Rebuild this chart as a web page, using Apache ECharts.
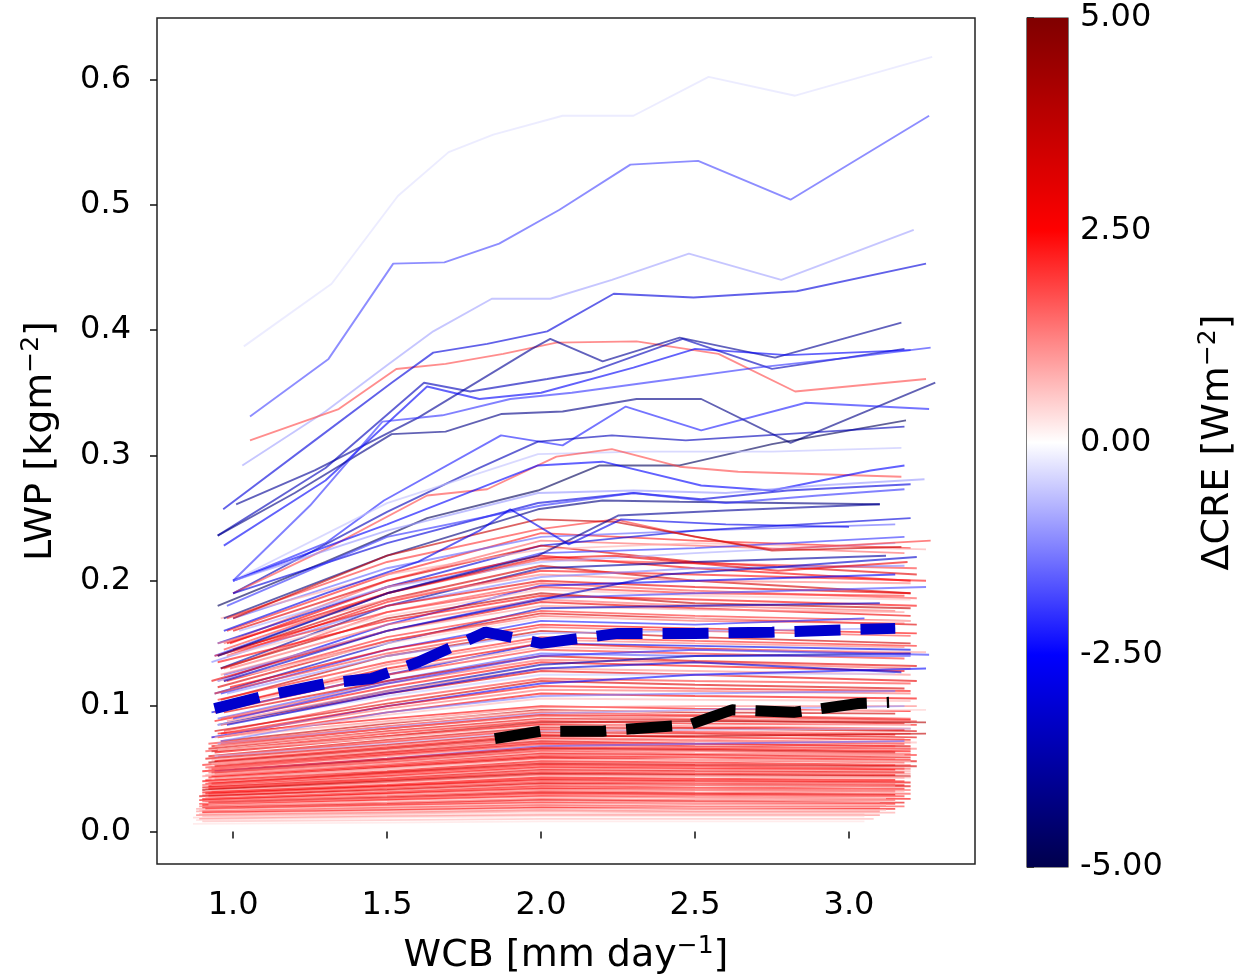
<!DOCTYPE html>
<html><head><meta charset="utf-8">
<script src="https://cdn.jsdelivr.net/npm/echarts@6/dist/echarts.min.js"></script>
<style>html,body{margin:0;padding:0;background:#fff}#c{width:1239px;height:980px}</style>
</head><body><div id="c"></div>
<script>
// ---- tick labels ----
const xTicks = [1.0, 1.5, 2.0, 2.5, 3.0];
const yTicks = [0, 0.1, 0.2, 0.3, 0.4, 0.5, 0.6];
const cbarTicks = [-5, -2.5, 0, 2.5, 5];

// ---- prominent upper lines (ΔCRE, x, y) ----
const upperCRE = [-0.3, -1.8, -0.9, 1.8, -3.0, -4.0, -3.5, -2.6, -4.2, -2.2, -4.8, -3.5, -0.6, 1.8, -2.5, -4.3, -3.0, -1.0, -2.0, 2.0, 3.6, 2.8, -4.0, -2.8, -3.2, -2.0];
const upperX = [
 [1.035,1.32,1.535,1.70,1.845,2.07,2.30,2.544,2.825,3.27],
 [1.055,1.31,1.52,1.686,1.864,2.06,2.29,2.51,2.81,3.26],
 [1.03,1.3,1.5,1.65,1.84,2.03,2.23,2.48,2.78,3.21],
 [1.055,1.343,1.53,1.69,1.877,2.05,2.31,2.576,2.825,3.25],
 [0.968,1.26,1.515,1.65,1.825,2.02,2.236,2.495,2.83,3.25],
 [1.01,1.265,1.6,1.97,2.03,2.2,2.45,2.76,3.17],
 [0.95,1.3,1.62,1.77,2.02,2.165,2.46,2.75,3.18],
 [0.97,1.3,1.63,1.8,2.0,2.3,2.5,2.8,3.2],
 [0.95,1.2,1.515,1.69,1.87,2.07,2.31,2.52,2.81,3.28],
 [1.0,1.3,1.49,1.87,2.07,2.275,2.52,2.86,3.26],
 [0.95,1.3,1.63,1.99,2.19,2.45,2.75,3.185],
 [1.0,1.5,1.8,1.99,2.23,2.47,3.18],
 [1.0,1.5,1.99,2.32,2.75,3.17],
 [1.0,1.3,1.63,1.825,2.05,2.23,2.45,2.64,3.17],
 [1.0,1.5,1.99,2.2,2.52,2.75,3.07,3.18],
 [0.97,1.5,1.99,2.2,2.45,3.1],
 [1.0,1.5,1.99,2.3,2.52,2.8,3.2],
 [1.0,1.5,1.99,2.3,2.6,2.9,3.245],
 [0.98,1.5,2.0,2.3,2.6,2.9,3.18],
 [0.98,1.5,1.99,2.24,2.5,2.75,3.265],
 [1.0,1.5,1.99,2.24,2.75,3.17],
 [0.98,1.5,1.99,2.24,2.77,3.19],
 [0.95,1.5,1.99,2.25,2.6,3.1],
 [0.97,1.3,1.6,1.8,1.9,2.09,2.26,2.6,3.0],
 [0.97,1.5,2.0,2.4,2.77,3.22],
 [1.0,1.25,1.485,1.68,1.9,2.1,2.4,2.7,3.0,3.265]
];
const upperY = [
 [0.387,0.437,0.507,0.542,0.556,0.571,0.571,0.602,0.587,0.618],
 [0.331,0.377,0.453,0.454,0.469,0.496,0.532,0.535,0.504,0.571],
 [0.292,0.335,0.372,0.399,0.425,0.425,0.440,0.461,0.440,0.480],
 [0.312,0.337,0.369,0.373,0.381,0.390,0.391,0.381,0.351,0.361],
 [0.257,0.311,0.358,0.382,0.389,0.399,0.429,0.426,0.431,0.453],
 [0.261,0.288,0.33,0.385,0.393,0.375,0.394,0.378,0.406],
 [0.236,0.29,0.358,0.351,0.361,0.367,0.393,0.369,0.385],
 [0.228,0.28,0.355,0.345,0.35,0.37,0.385,0.38,0.384],
 [0.236,0.27,0.317,0.319,0.333,0.335,0.345,0.345,0.310,0.358],
 [0.2,0.23,0.264,0.316,0.308,0.339,0.320,0.342,0.337],
 [0.18,0.215,0.25,0.272,0.292,0.292,0.309,0.328],
 [0.19,0.255,0.29,0.311,0.316,0.312,0.323],
 [0.2,0.262,0.301,0.303,0.303,0.306],
 [0.19,0.225,0.268,0.273,0.299,0.305,0.291,0.287,0.283],
 [0.2,0.245,0.292,0.295,0.276,0.272,0.288,0.292],
 [0.17,0.22,0.257,0.264,0.263,0.261],
 [0.19,0.23,0.262,0.27,0.265,0.272,0.277],
 [0.2,0.24,0.27,0.272,0.27,0.276,0.281],
 [0.18,0.235,0.26,0.27,0.262,0.268,0.273],
 [0.17,0.215,0.241,0.249,0.235,0.225,0.232],
 [0.17,0.22,0.249,0.247,0.224,0.227],
 [0.15,0.19,0.218,0.22,0.208,0.215],
 [0.14,0.19,0.22,0.252,0.256,0.261],
 [0.16,0.19,0.215,0.24,0.257,0.229,0.249,0.245,0.243],
 [0.12,0.16,0.185,0.205,0.211,0.219],
 [0.2,0.26,0.327,0.332,0.345,0.35,0.36,0.37,0.378,0.386]
];

// ---- dense bundle lines: [ΔCRE, xStart, yStart, y@1.5, y@2.0, y@2.5, xEnd, yEnd] ----
const denseInnerX = [1.5, 2.0, 2.5];
const midRows = [
 [2.2,0.98,0.16,0.205,0.238,0.232,3.2,0.226],[-1.5,1.0,0.17,0.21,0.235,0.24,3.15,0.245],
 [1.5,0.97,0.15,0.2,0.232,0.228,3.18,0.222],[-3.0,0.95,0.15,0.195,0.228,0.24,3.2,0.25],
 [3.0,1.0,0.16,0.2,0.228,0.215,3.22,0.205],[0.8,0.96,0.17,0.205,0.225,0.23,3.25,0.225],
 [-2.0,0.94,0.14,0.19,0.222,0.226,3.18,0.235],[2.6,0.99,0.15,0.195,0.22,0.21,3.2,0.2],
 [1.9,0.97,0.145,0.19,0.217,0.214,3.22,0.21],[-0.8,1.02,0.16,0.195,0.215,0.222,3.15,0.23],
 [3.3,0.95,0.14,0.185,0.212,0.2,3.2,0.19],[-3.8,0.96,0.13,0.18,0.21,0.215,3.12,0.22],
 [2.3,0.98,0.14,0.183,0.208,0.205,3.25,0.2],[1.2,0.95,0.15,0.185,0.205,0.2,3.2,0.198],
 [-1.2,0.93,0.135,0.18,0.203,0.21,3.18,0.212],[2.9,1.0,0.145,0.18,0.2,0.195,3.2,0.19],
 [1.7,0.97,0.13,0.175,0.198,0.192,3.22,0.186],[-2.6,0.95,0.12,0.165,0.196,0.2,3.15,0.205],
 [2.0,0.94,0.14,0.175,0.195,0.19,3.18,0.188],[0.6,0.98,0.14,0.172,0.193,0.188,3.2,0.185],
 [3.6,0.96,0.13,0.17,0.19,0.182,3.2,0.178],[2.4,0.95,0.135,0.168,0.188,0.185,3.22,0.18],
 [-1.8,0.97,0.125,0.16,0.186,0.19,3.25,0.195],[1.4,0.99,0.13,0.165,0.185,0.18,3.15,0.176],
 [2.8,0.93,0.12,0.16,0.183,0.178,3.2,0.172],[1.0,0.96,0.125,0.16,0.18,0.177,3.18,0.175],
 [-3.3,0.94,0.11,0.15,0.178,0.18,3.1,0.182],[2.1,0.98,0.12,0.155,0.176,0.172,3.2,0.168],
 [3.1,0.95,0.115,0.152,0.174,0.17,3.22,0.165],[1.6,0.97,0.12,0.152,0.172,0.168,3.18,0.166],
 [0.4,0.95,0.12,0.15,0.17,0.17,3.2,0.168],[-2.2,0.96,0.11,0.145,0.168,0.165,3.05,0.17],
 [2.5,0.99,0.115,0.145,0.165,0.162,3.22,0.158],[1.8,0.94,0.11,0.142,0.163,0.16,3.2,0.156],
 [3.4,0.96,0.105,0.14,0.16,0.155,3.2,0.15],[-1.0,0.98,0.11,0.14,0.158,0.16,3.15,0.162],
 [2.2,0.95,0.105,0.135,0.155,0.152,3.22,0.148],[1.3,0.97,0.1,0.133,0.153,0.15,3.18,0.147],
 [-2.8,0.93,0.095,0.125,0.15,0.148,3.2,0.145],[2.7,0.96,0.1,0.13,0.15,0.146,3.2,0.142],
 [0.9,0.98,0.1,0.128,0.147,0.145,3.25,0.143],[2.0,0.94,0.095,0.125,0.145,0.142,3.18,0.138],
 [-1.6,0.95,0.09,0.12,0.142,0.14,3.2,0.14],[3.0,0.97,0.095,0.12,0.14,0.136,3.22,0.132],
 [1.5,0.96,0.09,0.118,0.137,0.135,3.2,0.13],[2.4,0.94,0.088,0.115,0.135,0.132,3.18,0.128],
 [-3.5,0.95,0.085,0.112,0.133,0.14,3.2,0.142],[1.1,0.98,0.088,0.112,0.13,0.128,3.2,0.125],
 [2.9,0.96,0.085,0.11,0.128,0.125,3.22,0.12],[-0.5,0.95,0.085,0.108,0.125,0.125,3.15,0.126],
 [1.9,0.97,0.08,0.105,0.122,0.12,3.2,0.118],[3.2,0.94,0.08,0.102,0.12,0.117,3.18,0.114],
 [-2.4,0.93,0.075,0.1,0.118,0.125,3.25,0.13],[2.3,0.96,0.078,0.1,0.116,0.114,3.2,0.112],
 [1.4,0.98,0.078,0.098,0.113,0.112,3.2,0.11],[2.6,0.95,0.075,0.095,0.11,0.108,3.22,0.106],
 [-1.3,0.96,0.072,0.095,0.108,0.11,3.15,0.112],[0.7,0.94,0.075,0.093,0.106,0.105,3.2,0.104],
 [-2.0,1.0,0.09,0.118,0.14,0.145,3.26,0.141],[-3.0,0.98,0.085,0.11,0.13,0.135,3.17,0.127]
];
const lowRows = [
 [2.5,0.95,0.078,0.09,0.1,0.098,3.2,0.096],[1.2,0.93,0.075,0.088,0.099,0.1,3.22,0.1],
 [3.5,0.96,0.072,0.086,0.097,0.095,3.15,0.094],[0.5,0.94,0.075,0.087,0.096,0.096,3.25,0.097],
 [2.0,0.92,0.07,0.084,0.095,0.093,3.2,0.09],[-1.0,0.95,0.07,0.083,0.094,0.097,3.18,0.1],
 [2.8,0.93,0.068,0.082,0.093,0.092,3.2,0.089],[1.6,0.96,0.07,0.082,0.092,0.09,3.22,0.088],
 [3.0,0.92,0.066,0.08,0.09,0.089,3.18,0.086],[0.9,0.94,0.068,0.079,0.089,0.088,3.2,0.087],
 [2.3,0.95,0.065,0.078,0.088,0.086,3.22,0.085],[4.0,0.93,0.064,0.076,0.087,0.088,3.25,0.087],
 [1.8,0.91,0.064,0.076,0.086,0.084,3.2,0.082],[2.6,0.94,0.063,0.075,0.085,0.083,3.18,0.081],
 [0.3,0.95,0.065,0.075,0.084,0.084,3.2,0.085],[3.2,0.92,0.06,0.073,0.083,0.082,3.22,0.08],
 [1.4,0.93,0.06,0.072,0.082,0.08,3.2,0.078],[2.1,0.95,0.06,0.071,0.081,0.079,3.15,0.077],
 [-0.6,0.94,0.06,0.07,0.08,0.081,3.2,0.082],[2.9,0.91,0.058,0.069,0.079,0.078,3.22,0.075],
 [1.0,0.93,0.057,0.068,0.078,0.076,3.18,0.074],[2.4,0.94,0.056,0.067,0.077,0.075,3.2,0.073],
 [3.7,0.92,0.055,0.066,0.076,0.076,3.25,0.078],[1.7,0.95,0.055,0.066,0.075,0.073,3.2,0.071],
 [2.2,0.9,0.053,0.064,0.074,0.072,3.18,0.07],[0.7,0.93,0.054,0.064,0.073,0.072,3.22,0.071],
 [3.1,0.94,0.052,0.063,0.072,0.07,3.2,0.068],[1.9,0.91,0.051,0.062,0.071,0.07,3.15,0.068],
 [2.7,0.93,0.05,0.061,0.07,0.068,3.2,0.066],[1.3,0.92,0.05,0.06,0.069,0.067,3.22,0.066],
 [-1.5,0.94,0.048,0.058,0.068,0.07,3.18,0.072],[2.5,0.9,0.048,0.058,0.067,0.066,3.2,0.064],
 [3.4,0.93,0.047,0.057,0.066,0.065,3.15,0.063],[1.5,0.92,0.047,0.056,0.065,0.064,3.2,0.062],
 [2.0,0.94,0.046,0.055,0.064,0.062,3.22,0.061],[0.8,0.91,0.045,0.054,0.063,0.062,3.18,0.061],
 [2.8,0.93,0.044,0.053,0.062,0.061,3.2,0.059],[1.1,0.9,0.044,0.053,0.061,0.06,3.15,0.058],
 [2.3,0.92,0.043,0.052,0.06,0.059,3.2,0.057],[3.0,0.94,0.042,0.051,0.059,0.057,3.22,0.056],
 [1.8,0.91,0.041,0.05,0.058,0.057,3.18,0.055],[0.4,0.93,0.042,0.05,0.057,0.057,3.2,0.056],
 [2.6,0.9,0.04,0.048,0.056,0.055,3.15,0.053],[1.4,0.92,0.039,0.047,0.055,0.054,3.2,0.053],
 [3.3,0.93,0.038,0.047,0.054,0.053,3.22,0.052],[2.1,0.91,0.038,0.046,0.053,0.052,3.18,0.05],
 [1.6,0.9,0.037,0.045,0.052,0.051,3.2,0.05],[2.4,0.92,0.036,0.044,0.051,0.05,3.15,0.049],
 [0.9,0.93,0.036,0.043,0.05,0.049,3.2,0.048],[2.9,0.9,0.035,0.042,0.049,0.048,3.18,0.047],
 [1.2,0.91,0.034,0.041,0.048,0.047,3.2,0.046],[2.2,0.92,0.034,0.041,0.047,0.046,3.15,0.045],
 [3.6,0.9,0.033,0.04,0.046,0.045,3.2,0.044],[1.7,0.93,0.032,0.039,0.045,0.044,3.18,0.043],
 [0.6,0.91,0.032,0.038,0.044,0.044,3.2,0.043],[2.5,0.9,0.031,0.037,0.043,0.042,3.15,0.041],
 [1.9,0.92,0.03,0.036,0.042,0.041,3.18,0.04],[2.8,0.91,0.03,0.036,0.041,0.04,3.2,0.039],
 [1.3,0.9,0.029,0.035,0.04,0.039,3.15,0.038],[2.0,0.92,0.028,0.034,0.039,0.038,3.18,0.037],
 [3.1,0.89,0.028,0.033,0.038,0.037,3.2,0.036],[1.0,0.91,0.027,0.032,0.037,0.037,3.15,0.036],
 [2.3,0.9,0.026,0.031,0.036,0.035,3.18,0.034],[1.5,0.92,0.026,0.031,0.035,0.034,3.2,0.033],
 [2.7,0.89,0.025,0.03,0.034,0.033,3.15,0.032],[0.8,0.91,0.024,0.029,0.033,0.033,3.18,0.032],
 [1.8,0.9,0.024,0.028,0.032,0.031,3.2,0.03],[3.0,0.92,0.023,0.027,0.031,0.03,3.15,0.029],
 [2.1,0.89,0.022,0.026,0.03,0.029,3.18,0.028],[1.2,0.91,0.022,0.026,0.029,0.028,3.15,0.028],
 [2.5,0.9,0.021,0.025,0.028,0.027,3.2,0.026],[0.5,0.92,0.021,0.024,0.027,0.027,3.12,0.026],
 [1.6,0.89,0.02,0.023,0.026,0.025,3.15,0.025],[2.9,0.9,0.019,0.022,0.025,0.024,3.18,0.023],
 [1.0,0.88,0.018,0.021,0.024,0.023,3.1,0.023],[2.2,0.91,0.018,0.021,0.023,0.022,3.15,0.022],
 [0.7,0.89,0.017,0.02,0.022,0.022,3.12,0.021],[1.9,0.9,0.016,0.019,0.021,0.02,3.18,0.02],
 [1.1,0.88,0.016,0.018,0.02,0.019,3.1,0.019],[2.6,0.9,0.015,0.017,0.019,0.018,3.15,0.018],
 [0.6,0.89,0.014,0.016,0.018,0.018,3.12,0.017],[1.4,0.88,0.013,0.015,0.017,0.016,3.1,0.016],
 [0.9,0.9,0.012,0.014,0.016,0.015,3.15,0.015],[0.5,0.87,0.011,0.013,0.014,0.014,3.05,0.014],
 [1.2,0.89,0.01,0.012,0.013,0.013,3.1,0.013],[0.4,0.88,0.009,0.011,0.012,0.012,3.05,0.012],
 [0.7,0.9,0.008,0.009,0.01,0.01,3.08,0.01],[0.3,0.87,0.006,0.007,0.008,0.008,3.05,0.008]
];

// ---- mean curves ----
const meanBlueX = [0.94,1.1,1.3,1.45,1.6,1.82,2.0,2.25,2.5,2.75,3.0,3.15];
const meanBlueY = [0.098,0.108,0.118,0.122,0.135,0.159,0.150,0.158,0.158,0.159,0.161,0.162];
const meanBlackX = [1.85,2.0,2.2,2.3,2.48,2.62,2.82,3.03,3.13];
const meanBlackY = [0.074,0.080,0.080,0.082,0.085,0.097,0.095,0.102,0.103];

// ---- seismic colormap ----
function seismic(v) {
  const t = Math.max(0, Math.min(1, (v + 5) / 10));
  const st = [[0,[0,0,76.5]],[0.25,[0,0,255]],[0.5,[255,255,255]],[0.75,[255,0,0]],[1,[127.5,0,0]]];
  for (let i = 0; i < st.length - 1; i++) {
    if (t <= st[i+1][0]) {
      const f = (t - st[i][0]) / (st[i+1][0] - st[i][0]);
      const c = st[i][1].map((a, k) => Math.round(a + (st[i+1][1][k] - a) * f));
      return 'rgb(' + c.join(',') + ')';
    }
  }
  return 'rgb(127,0,0)';
}

function lineSeries(cre, xs, ys) {
  return {
    type: 'line', xAxisIndex: 0, yAxisIndex: 0,
    data: xs.map((x, i) => [x, ys[i]]),
    symbol: 'none', showSymbol: false, silent: true, animation: false,
    lineStyle: { color: seismic(cre), width: 1.9, opacity: 0.62 }, z: 2
  };
}

const series = [];
lowRows.forEach(r => series.push(lineSeries(r[0], [r[1], ...denseInnerX, r[6]], [r[2], r[3], r[4], r[5], r[7]])));
midRows.forEach(r => series.push(lineSeries(r[0], [r[1], ...denseInnerX, r[6]], [r[2], r[3], r[4], r[5], r[7]])));
upperCRE.forEach((c, i) => series.push(lineSeries(c, upperX[i], upperY[i])));

series.push({
  type: 'line', xAxisIndex: 0, yAxisIndex: 0, symbol: 'none', silent: true, animation: false, z: 5,
  data: meanBlueX.map((x, i) => [x, meanBlueY[i]]),
  lineStyle: { color: '#0000cc', width: 11, type: [46, 20], cap: 'butt' }
});
series.push({
  type: 'line', xAxisIndex: 0, yAxisIndex: 0, symbol: 'none', silent: true, animation: false, z: 5,
  data: meanBlackX.map((x, i) => [x, meanBlackY[i]]),
  lineStyle: { color: '#000000', width: 11, type: [46, 20], cap: 'butt' }
});

// colorbar
const cbStops = [];
for (let i = 0; i <= 40; i++) { cbStops.push({ offset: i / 40, color: seismic(5 - i * 0.25) }); }
series.push({
  type: 'custom', xAxisIndex: 1, yAxisIndex: 1, silent: true, animation: false,
  data: [[0, cbarTicks[0], 1, cbarTicks[cbarTicks.length - 1]]],
  renderItem: function (params, api) {
    const p0 = api.coord([api.value(0), api.value(3)]);
    const p1 = api.coord([api.value(2), api.value(1)]);
    return { type: 'rect', shape: { x: p0[0], y: p0[1], width: p1[0] - p0[0], height: p1[1] - p0[1] },
      style: { fill: new echarts.graphic.LinearGradient(0, 0, 0, 1, cbStops) } };
  }
});

const FONT = 'DejaVu Sans';
const tickFont = { fontSize: 32, color: '#000', fontFamily: FONT };
const nameRich = {
  a: { fontSize: 38, fontFamily: FONT, color: '#000' },
  s: { fontSize: 25, fontFamily: FONT, color: '#000', padding: [0, 0, 19, 0] }
};

const chart = echarts.init(document.getElementById('c'), null, { renderer: 'canvas' });
chart.setOption({
  backgroundColor: '#fff',
  animation: false,
  grid: [
    { left: 157, top: 18, width: 818, height: 849, show: true, borderColor: '#222', borderWidth: 1.5, backgroundColor: 'transparent' },
    { left: 1027, top: 18, width: 41, height: 849, show: true, borderColor: '#222', borderWidth: 1.2, backgroundColor: 'transparent' }
  ],
  xAxis: [
    { type: 'value', gridIndex: 0, min: 0.753, max: 3.409,
      axisLine: { show: false }, splitLine: { show: false },
      axisTick: { show: true, length: 7, lineStyle: { color: '#111', width: 1.5 }, customValues: xTicks },
      axisLabel: { customValues: xTicks, formatter: v => v.toFixed(1), margin: 26, ...tickFont },
      name: '{a|WCB [mm day}{s|−1}{a|]}', nameLocation: 'middle', nameGap: 70,
      nameTextStyle: { rich: nameRich } },
    { type: 'value', gridIndex: 1, min: 0, max: 1, show: false }
  ],
  yAxis: [
    { type: 'value', gridIndex: 0, min: -0.026, max: 0.649,
      axisLine: { show: false }, splitLine: { show: false },
      axisTick: { show: true, length: 7, lineStyle: { color: '#111', width: 1.5 }, customValues: yTicks },
      axisLabel: { customValues: yTicks, formatter: v => v.toFixed(1), margin: 26, ...tickFont },
      name: '{a|LWP [kgm}{s|−2}{a|]}', nameLocation: 'middle', nameGap: 94, nameRotate: 90,
      nameTextStyle: { rich: nameRich } },
    { type: 'value', gridIndex: 1, min: -5, max: 5, interval: 2.5, position: 'right',
      axisLine: { show: false }, splitLine: { show: false },
      axisTick: { show: true, length: 7, lineStyle: { color: '#111', width: 1.5 } },
      axisLabel: { formatter: v => v.toFixed(2), margin: 12, ...tickFont },
      name: '{a|ΔCRE [Wm}{s|−2}{a|]}', nameLocation: 'middle', nameGap: 128, nameRotate: 90,
      nameTextStyle: { rich: nameRich } }
  ],
  series: series
});
</script></body></html>
